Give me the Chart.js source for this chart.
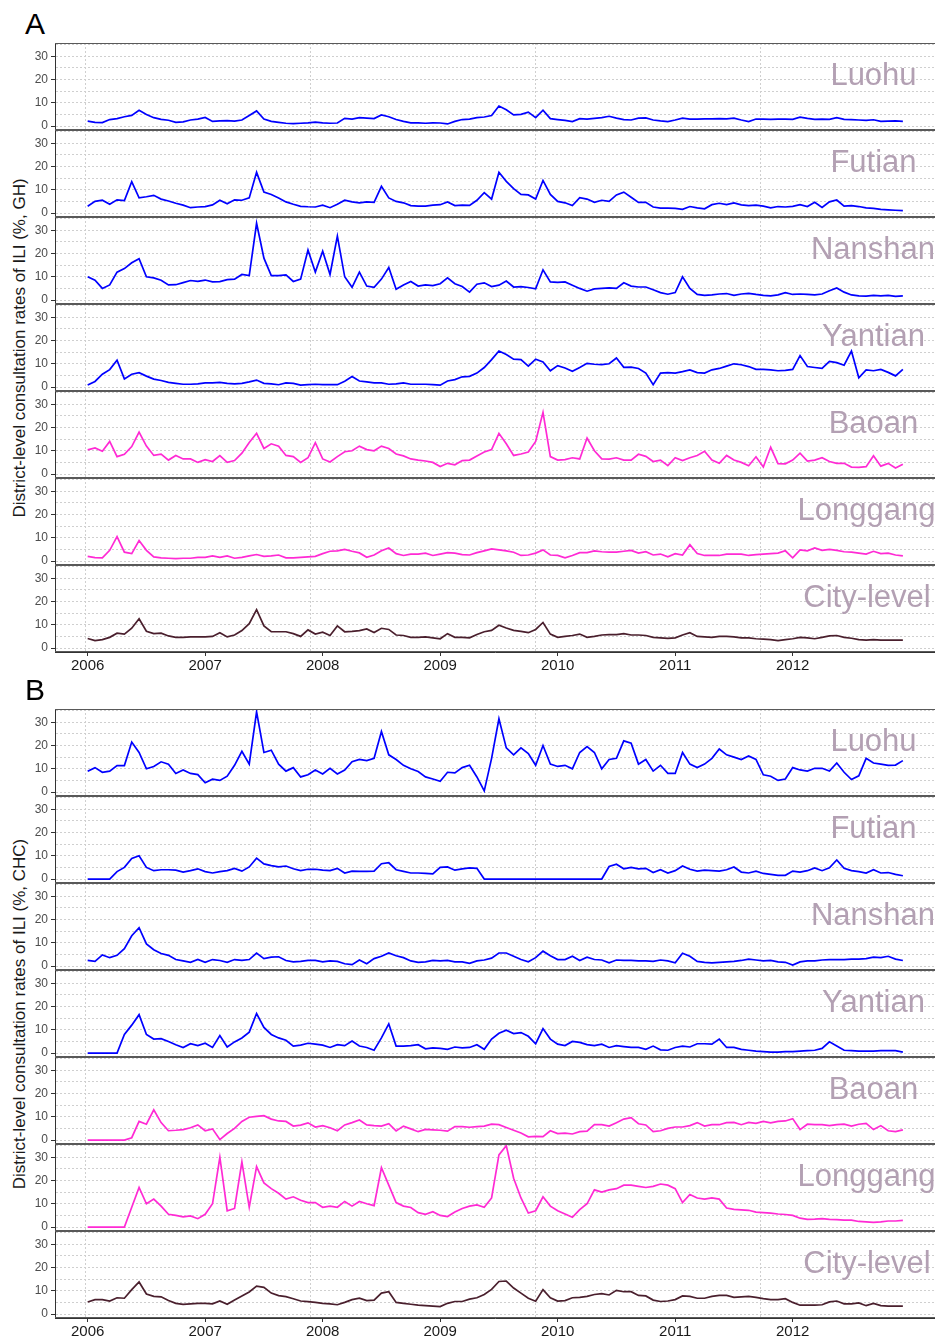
<!DOCTYPE html>
<html>
<head>
<meta charset="utf-8">
<script src="https://cdn.jsdelivr.net/npm/chart.js"></script>
<style>
html,body{margin:0;padding:0;background:#fff;}
#root{position:relative;width:935px;height:1341px;overflow:hidden;background:#fff;font-family:"Liberation Sans",Arial,Helvetica,sans-serif;}
canvas{position:absolute;left:0;}
.strip{position:absolute;color:#b3a0b3;font-size:31px;line-height:31px;white-space:nowrap;transform:translateX(-50%);}
.ytitle{position:absolute;font-size:17px;line-height:17px;color:#1a1a1a;white-space:nowrap;transform:translate(-50%,-50%) rotate(-90deg);}
.tag{position:absolute;font-size:30px;line-height:30px;color:#000;}
</style>
</head>
<body>
<div id="root"></div>
<script>
// ---------- tick labels / categories ----------
const years = [2006, 2007, 2008, 2009, 2010, 2011, 2012];
const gridYears = [2005.985, 2007.898, 2009.811, 2011.724];
const yGridValues = [0, 5, 10, 15, 20, 25, 30, 35];
const districts = ['Luohu', 'Futian', 'Nanshan', 'Yantian', 'Baoan', 'Longgang', 'City-level'];
const stripCenters = [873.5, 873.5, 873, 873.5, 873.5, 866.5, 867];
const sampleStep = 1 / 16;
const sampleTimes = Array.from({length: 112}, (_, i) => 2006 + i * sampleStep);

// ---------- A: GH series ----------
const ghLuohu = [
2.1,1.6,1.5,2.8,3.2,4.0,4.6,6.8,5.0,3.6,2.9,2.5,1.6,1.8,2.6,3.0,
3.7,2.0,2.2,2.3,2.1,2.6,4.5,6.5,3.0,2.0,1.6,1.2,1.0,1.2,1.4,1.7,
1.4,1.2,1.3,3.3,3.0,3.6,3.4,3.2,4.8,4.0,2.8,2.0,1.4,1.4,1.2,1.4,
1.3,0.9,2.0,2.8,3.0,3.6,3.9,4.5,8.6,7.0,4.8,5.0,6.0,3.6,6.8,3.2,
2.8,2.4,1.9,3.2,3.0,3.3,3.6,4.2,3.4,2.8,2.6,3.4,3.5,2.6,2.2,1.9,
2.6,3.4,3.0,3.0,3.1,3.1,3.2,3.1,3.4,2.6,1.9,3.0,3.0,2.9,3.0,3.0,
2.9,3.8,3.3,2.9,3.0,2.9,3.6,2.9,2.8,2.6,2.4,2.7,2.0,2.1,2.2,2.0];
const ghFutian = [
2.9,5.0,5.5,3.8,5.7,5.4,13.5,6.5,7.0,7.6,6.0,5.2,4.2,3.4,2.3,2.6,
2.8,3.5,5.5,4.0,5.7,5.5,6.5,17.5,9.0,8.0,6.5,4.8,3.8,2.9,2.7,2.6,
3.4,2.3,3.8,5.5,4.8,4.4,4.8,4.6,11.5,6.5,5.0,4.4,3.2,3.0,3.0,3.4,
3.6,4.8,3.2,3.4,3.3,5.5,8.8,6.0,17.5,13.6,10.5,8.0,7.8,6.0,14.0,8.0,
5.0,4.4,3.2,6.6,6.0,4.6,5.5,5.0,7.8,9.0,6.8,4.6,4.6,2.6,2.1,2.1,
2.0,1.6,2.8,2.2,1.8,3.6,4.2,3.6,4.4,3.5,3.2,3.4,3.0,2.2,2.8,2.6,
2.9,3.6,2.8,4.6,2.4,4.8,5.6,3.0,3.2,2.8,2.2,2.0,1.6,1.4,1.2,1.0];
const ghNanshan = [
10.0,8.5,5.0,6.5,12.0,13.5,16.0,17.8,10.0,9.5,8.5,6.5,6.6,7.5,8.4,8.0,
8.6,7.8,7.9,8.8,9.0,11.0,10.5,33.0,18.0,10.5,10.5,10.8,8.0,9.0,21.5,12.0,
21.0,11.0,27.5,10.0,5.5,12.0,6.0,5.5,9.0,14.0,4.6,6.5,8.0,6.0,6.5,6.2,
7.0,9.5,7.0,5.8,3.4,6.8,7.4,5.8,6.4,8.2,5.6,5.8,5.4,4.8,13.0,7.8,
7.6,7.8,6.4,5.0,3.8,4.8,5.0,5.2,5.0,7.4,6.0,5.6,5.6,4.4,3.2,2.5,
3.2,10.0,5.0,2.4,2.0,2.2,2.6,2.8,2.0,2.6,2.9,2.4,2.0,1.8,2.2,3.2,
2.4,2.6,2.4,2.2,2.6,4.0,5.2,3.4,2.2,1.8,1.7,2.0,1.8,2.0,1.6,1.8];
const ghYantian = [
0.9,2.4,5.5,7.5,11.5,3.5,5.5,6.2,4.7,3.4,2.8,2.0,1.6,1.2,1.2,1.4,
1.8,1.8,2.0,1.6,1.4,1.6,2.2,3.0,1.6,1.4,1.0,1.8,1.6,0.8,1.0,1.2,
1.0,1.0,1.0,2.5,4.5,2.6,2.2,1.8,1.8,1.2,1.4,1.8,1.2,1.2,1.2,1.0,
0.8,2.6,3.2,4.4,4.6,6.0,8.4,11.8,15.5,14.0,12.0,11.8,9.0,12.0,10.8,7.0,
9.2,8.2,6.8,8.4,10.2,9.8,9.6,10.0,12.5,8.5,8.6,8.0,6.0,1.0,6.0,6.2,
6.0,6.6,7.4,6.2,6.0,7.4,8.0,9.0,10.0,9.6,8.8,7.6,7.6,7.4,7.0,7.2,
7.6,13.5,8.8,8.4,8.0,11.0,10.5,9.4,15.5,4.0,7.4,7.0,7.6,6.3,4.8,7.6];
const ghBaoan = [
10.4,11.2,9.8,14.0,7.5,8.5,11.8,18.0,12.0,8.0,8.6,6.0,8.0,6.5,6.5,5.0,
6.2,5.4,7.9,5.0,5.8,9.0,13.6,17.5,11.0,13.0,12.0,8.0,7.5,5.0,7.0,13.5,
6.5,5.2,7.5,9.6,10.0,12.0,10.5,10.0,12.0,11.0,8.6,7.8,6.5,6.0,5.6,5.0,
3.2,4.6,4.0,5.8,6.0,7.8,9.5,10.5,17.5,13.0,8.0,8.6,9.5,14.0,26.5,7.5,
6.0,6.2,7.0,6.5,15.5,10.0,6.5,6.4,7.0,6.0,6.0,8.5,7.6,5.4,6.0,3.6,
7.0,5.8,7.0,8.0,9.8,6.0,4.6,8.0,6.0,5.0,3.6,7.4,3.0,11.5,4.5,4.4,
6.0,9.0,5.6,6.0,7.0,5.4,4.6,4.6,3.0,2.9,3.2,7.9,3.4,4.6,2.6,4.2];
const ghLonggang = [
2.0,1.5,1.4,4.6,10.5,3.8,3.2,8.8,4.6,1.8,1.4,1.2,1.0,1.2,1.2,1.6,
1.6,2.2,1.6,2.2,1.2,1.6,2.2,2.8,2.0,2.2,2.6,1.4,1.4,1.6,1.8,2.0,
3.2,4.2,4.4,5.0,4.2,3.5,1.6,2.6,4.4,5.6,3.2,2.4,3.0,3.0,3.4,2.4,
3.0,3.6,3.4,2.8,2.6,3.6,4.4,5.2,4.8,4.4,3.8,2.4,2.6,3.4,4.8,2.6,
2.4,1.4,2.4,3.6,3.6,4.4,4.0,3.8,3.8,4.2,4.6,3.4,4.0,2.6,3.0,1.8,
3.2,2.6,7.0,3.2,2.4,2.4,2.4,3.0,3.0,3.0,2.4,2.8,3.0,3.2,3.4,4.4,
1.4,4.8,4.4,5.6,4.6,5.0,4.6,4.0,3.8,3.4,3.0,4.2,3.2,3.4,2.6,2.2];
const ghCity = [
4.1,3.2,3.6,4.6,6.4,6.0,8.5,12.6,7.2,6.2,6.4,5.2,4.6,4.6,4.8,4.8,
4.8,5.0,6.6,4.8,5.6,7.5,10.5,16.5,9.5,7.0,7.0,7.0,6.2,5.0,7.8,6.0,
6.8,5.4,9.5,7.0,7.2,7.5,8.2,6.7,8.5,8.0,5.6,5.4,4.6,4.6,4.8,4.4,
4.0,6.2,4.6,4.6,4.4,5.8,7.0,7.6,9.8,8.6,7.6,7.2,6.6,8.0,11.0,6.0,
4.6,5.0,5.4,6.0,4.6,5.0,5.6,5.8,5.8,6.2,5.6,5.6,5.4,4.6,4.4,4.2,
4.4,5.6,6.6,5.0,4.8,4.6,5.0,5.0,4.8,4.4,4.4,4.0,3.8,3.6,3.2,3.6,
4.0,4.6,4.4,4.0,4.6,5.2,5.4,4.6,4.2,3.6,3.4,3.6,3.4,3.4,3.4,3.4];

// ---------- B: CHC series ----------
const chcLuohu = [
8.9,10.5,8.5,9.0,11.4,11.4,21.5,17.0,10.0,11.0,13.0,12.0,8.0,9.5,8.0,7.5,
4.0,5.5,5.0,6.8,11.5,17.5,12.0,34.5,17.0,18.0,12.0,9.0,10.5,6.5,7.4,9.5,
7.8,10.2,7.8,9.5,13.0,14.0,13.5,14.5,26.0,16.0,14.0,11.5,10.0,8.8,6.5,5.6,
4.6,8.5,8.2,10.5,11.5,6.5,0.5,14.5,31.5,19.0,16.0,19.0,16.5,11.5,20.0,12.0,
11.0,11.5,10.0,17.0,19.5,17.0,10.0,14.0,14.5,22.0,21.0,12.0,14.0,9.0,11.5,8.0,
8.0,17.0,12.0,10.5,12.0,14.5,18.5,16.0,15.0,14.0,15.5,14.0,7.4,6.8,5.0,5.6,
10.5,9.5,9.0,10.2,10.2,9.0,12.5,8.5,5.4,7.0,14.5,12.5,12.0,11.5,11.6,13.5];
const chcFutian = [
0,0,0,0,3.2,5.0,8.8,10.0,5.0,3.6,4.0,4.0,3.8,3.0,3.6,4.4,
3.2,2.6,3.2,3.6,4.6,3.4,5.2,9.0,6.5,5.8,5.2,5.6,4.4,3.6,4.2,4.2,
3.8,3.6,4.6,2.6,3.4,3.3,3.3,3.4,6.6,7.0,4.0,3.3,2.6,2.6,2.4,2.2,
5.0,5.2,3.8,4.4,4.8,4.6,0,0,0,0,0,0,0,0,0,0,
0,0,0,0,0,0,0,5.4,6.4,4.4,5.0,4.4,4.6,2.8,4.0,2.6,
3.6,5.6,4.2,3.4,3.8,3.6,3.4,4.0,5.2,3.0,2.6,3.4,2.4,2.0,1.6,1.6,
3.4,3.0,3.6,4.8,3.6,4.8,8.2,4.6,3.6,3.2,2.6,4.0,2.6,2.8,2.0,1.4];
const chcNanshan = [
2.4,2.0,4.8,3.6,4.6,7.5,13.0,16.5,9.5,7.0,5.4,4.6,2.8,2.2,1.6,2.8,
1.6,2.8,2.4,1.6,2.8,2.4,2.8,5.6,3.2,3.8,4.0,2.4,1.8,2.0,2.4,2.4,
1.8,2.2,2.0,1.0,0.6,2.6,1.0,3.2,4.2,5.6,4.4,3.6,2.2,1.6,1.8,2.4,
2.2,2.4,1.8,1.8,1.2,2.2,2.6,3.4,5.6,5.6,4.2,2.8,1.8,3.6,6.4,4.4,
2.8,2.8,4.2,2.4,3.8,2.8,2.6,1.4,2.6,2.4,2.4,2.2,2.2,2.0,2.6,2.2,
1.4,5.5,4.2,2.0,1.6,1.4,1.6,1.8,2.0,2.4,3.0,2.6,2.2,2.4,1.8,1.6,
0.4,1.8,2.2,2.2,2.6,2.8,2.8,2.8,3.0,3.0,3.2,3.8,3.6,4.2,3.0,2.4];
const chcYantian = [
0,0,0,0,0,8.0,12.0,16.5,8.0,6.0,6.2,5.0,3.6,2.4,4.0,3.2,
4.2,2.4,7.5,2.6,4.8,6.5,9.0,17.0,11.0,8.0,6.5,5.5,3.0,3.4,4.2,3.8,
3.4,2.4,3.6,3.2,5.2,3.0,2.4,1.2,6.5,12.5,3.0,3.0,3.2,3.6,1.8,2.2,
2.0,1.6,2.6,2.2,2.4,3.6,1.6,6.0,8.5,9.8,8.4,8.8,7.2,4.0,10.5,6.0,
3.8,3.2,5.0,4.6,3.6,3.2,3.8,2.4,3.2,2.8,2.4,2.4,1.6,3.0,1.4,1.2,
2.4,3.0,2.6,4.0,4.0,3.8,6.0,2.4,2.4,1.6,1.2,0.8,0.6,0.4,0.4,0.6,
0.6,0.8,1.0,1.2,2.0,4.8,3.0,1.2,1.0,0.8,0.8,0.8,1.0,1.0,1.0,0.4];
const chcBaoan = [
0,0,0,0,0,0,1.0,8.0,6.8,13.0,7.5,4.0,4.2,4.5,5.3,6.5,
4.0,4.8,0.2,2.8,5.0,8.0,9.8,10.2,10.5,9.0,8.2,8.0,6.0,6.4,7.4,5.6,
6.2,5.3,4.0,6.5,7.5,8.6,6.5,6.2,6.0,7.0,3.9,6.0,4.8,3.6,4.6,4.4,
4.2,3.8,5.8,5.8,5.5,5.8,6.0,6.8,6.6,5.4,4.2,3.0,1.4,1.6,1.5,4.0,
2.8,3.0,2.6,3.6,3.8,6.6,6.6,6.0,7.4,9.0,9.6,7.0,6.5,3.6,4.0,5.0,
5.6,5.6,6.2,7.5,6.0,6.6,6.6,7.5,7.6,6.6,7.6,7.2,8.0,7.4,8.0,8.2,
9.2,4.5,6.8,6.6,6.6,6.2,6.6,6.8,6.0,6.8,7.2,4.5,6.2,4.0,3.6,4.4];
const chcLonggang = [
0,0,0,0,0,0,8.5,17.0,10.0,12.0,9.0,5.5,5.0,4.4,4.8,3.6,
5.5,10.0,30.0,7.0,8.0,28.0,8.5,26.0,19.0,16.5,14.5,12.0,13.0,11.5,10.5,10.5,
8.5,9.0,8.5,11.0,9.0,11.0,10.0,9.2,25.5,18.0,10.5,9.0,8.4,6.2,5.5,6.6,
5.0,4.5,6.5,8.0,9.0,9.5,8.5,12.5,31.0,35.0,21.0,12.5,6.0,7.0,13.0,9.0,
7.0,5.6,4.2,7.5,10.0,16.0,15.0,16.0,16.5,18.0,18.0,17.5,17.0,17.5,18.5,18.0,
16.5,10.5,14.0,12.5,12.0,12.5,12.0,8.2,7.6,7.4,7.2,6.4,6.2,6.0,5.6,5.4,
5.0,3.8,3.3,3.4,3.6,3.3,3.2,3.0,3.0,2.4,2.2,2.0,2.2,2.6,2.6,2.9];
const chcCity = [
5.2,6.2,6.2,5.6,7.0,6.8,10.5,13.8,8.6,7.6,7.4,5.8,4.6,4.2,4.4,4.6,
4.6,4.4,5.6,4.2,6.0,7.8,9.5,12.0,11.5,9.0,7.9,7.5,6.6,5.6,5.3,5.0,
4.6,4.4,4.0,5.0,6.2,6.8,5.8,6.0,9.0,9.6,5.0,4.6,4.2,3.8,3.6,3.4,
3.2,4.6,5.4,5.4,6.4,7.0,8.4,10.6,14.0,14.2,11.2,9.0,6.8,5.5,10.5,7.0,
5.6,5.8,7.0,7.2,7.6,8.4,8.8,8.2,10.2,9.6,9.6,8.0,7.8,6.0,5.4,5.6,
6.2,7.8,7.6,6.8,6.8,7.6,8.0,8.0,7.2,7.4,7.6,7.2,6.6,6.2,6.2,6.6,
5.0,3.8,3.8,3.8,4.0,5.2,5.6,4.4,4.4,4.8,3.6,4.6,3.6,3.4,3.4,3.4];

// ---------- layout / style ----------
const seriesColors = ['#0000ff','#0000ff','#0000ff','#0000ff','#ff2ad4','#ff2ad4','#4a1f2d'];
const sections = [
  {tag: 'A', tagTop: 9, top: 43, title: 'District-level consultation rates of ILI (%, GH)',
   series: [ghLuohu, ghFutian, ghNanshan, ghYantian, ghBaoan, ghLonggang, ghCity]},
  {tag: 'B', tagTop: 675, top: 709, title: 'District-level consultation rates of ILI (%, CHC)',
   series: [chcLuohu, chcFutian, chcNanshan, chcYantian, chcBaoan, chcLonggang, chcCity]}
];
const PANEL_H = 87, PAD = 10, AXIS_H = 26, Y_AXIS_W = 55;
const X_MIN = 2005.722, X_MAX = 2013.211;
const Y_MIN = -1.7, Y_MAX = 35.7;

Chart.defaults.font.family = "'Liberation Sans', Arial, Helvetica, sans-serif";

const panelFrame = {
  id: 'panelFrame',
  afterDraw(chart) {
    const {ctx, chartArea: a} = chart;
    ctx.save();
    ctx.strokeStyle = '#595959';
    ctx.lineWidth = 1;
    ctx.beginPath();
    ctx.moveTo(a.left, a.top + 0.5); ctx.lineTo(a.right, a.top + 0.5);
    ctx.moveTo(a.left, a.bottom - 0.5); ctx.lineTo(a.right, a.bottom - 0.5);
    ctx.stroke();
    ctx.restore();
  }
};

const root = document.getElementById('root');

sections.forEach(sec => {
  const tag = document.createElement('div');
  tag.className = 'tag'; tag.textContent = sec.tag;
  tag.style.left = '25px'; tag.style.top = sec.tagTop + 'px';
  root.appendChild(tag);

  const yt = document.createElement('div');
  yt.className = 'ytitle'; yt.textContent = sec.title;
  yt.style.left = '19px'; yt.style.top = (sec.top + PANEL_H * 3.5) + 'px';
  root.appendChild(yt);

  sec.series.forEach((vals, k) => {
    const isBottom = k === sec.series.length - 1;
    const panelTop = sec.top + PANEL_H * k;
    const h = PAD + PANEL_H + (isBottom ? AXIS_H : PAD);
    const canvas = document.createElement('canvas');
    canvas.width = 935; canvas.height = h;
    canvas.style.width = '935px'; canvas.style.height = h + 'px';
    canvas.style.top = (panelTop - PAD) + 'px';
    root.appendChild(canvas);

    new Chart(canvas, {
      type: 'line',
      data: {
        datasets: [{
          label: districts[k],
          data: vals.map((v, i) => ({x: sampleTimes[i], y: v})),
          borderColor: seriesColors[k],
          borderWidth: 1.7,
          pointRadius: 0,
          tension: 0,
          fill: false,
          xAxisID: 'x',
          yAxisID: 'y'
        }]
      },
      options: {
        responsive: false,
        animation: false,
        events: [],
        devicePixelRatio: 1,
        layout: {padding: {top: PAD, bottom: isBottom ? 0 : PAD, left: 0, right: 0}},
        plugins: {legend: {display: false}, tooltip: {enabled: false}, title: {display: false}},
        scales: {
          xg: {
            type: 'linear', position: 'top', min: X_MIN, max: X_MAX,
            afterBuildTicks: s => { s.ticks = gridYears.map(v => ({value: v})); },
            afterFit: s => { s.height = 0; s.paddingLeft = 0; s.paddingRight = 0; },
            ticks: {display: false},
            grid: {color: '#cfcfcf', lineWidth: 1, drawTicks: false},
            border: {display: false, dash: [2, 2]}
          },
          x: {
            type: 'linear', position: 'bottom', display: isBottom, min: X_MIN, max: X_MAX,
            afterBuildTicks: s => { s.ticks = years.map(v => ({value: v})); },
            afterFit: s => { s.height = isBottom ? AXIS_H : 0; s.paddingLeft = 0; s.paddingRight = 0; },
            ticks: {callback: v => String(v), font: {size: 15}, color: '#1a1a1a', padding: 1, maxRotation: 0, autoSkip: false},
            grid: {drawOnChartArea: false, drawTicks: true, tickLength: 4, tickColor: '#333', tickWidth: 1},
            border: {display: true, color: '#333', width: 1}
          },
          y: {
            type: 'linear', position: 'left', min: Y_MIN, max: Y_MAX,
            afterBuildTicks: s => { s.ticks = yGridValues.map(v => ({value: v})); },
            afterFit: s => { s.width = Y_AXIS_W; s.paddingTop = 0; s.paddingBottom = 0; },
            ticks: {callback: v => (v % 10 === 0 ? String(v) : ''), font: {size: 12}, color: '#4d4d4d', padding: 3, autoSkip: false},
            grid: {
              color: '#cfcfcf', lineWidth: 1, tickLength: 4, tickWidth: 1,
              tickColor: c => (c.tick && c.tick.value % 10 === 0 ? '#333' : 'rgba(0,0,0,0)')
            },
            border: {display: true, color: '#333', width: 1, dash: [2, 2]}
          }
        }
      },
      plugins: [panelFrame]
    });

    const lab = document.createElement('div');
    lab.className = 'strip'; lab.textContent = districts[k];
    lab.style.left = stripCenters[k] + 'px'; lab.style.top = (panelTop + 16) + 'px';
    root.appendChild(lab);
  });
});
</script>
</body>
</html>
